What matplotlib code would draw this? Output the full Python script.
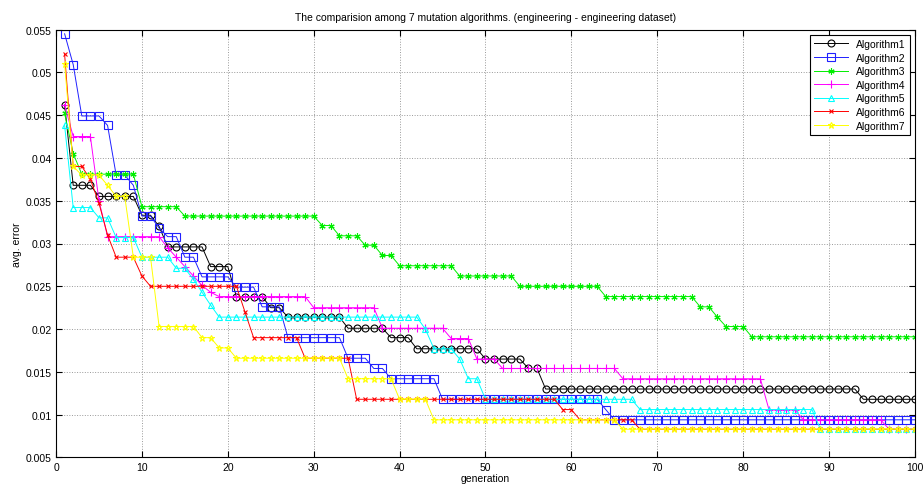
import numpy as np
import matplotlib
matplotlib.use("Agg")
import matplotlib.pyplot as plt

plt.rcParams['font.family'] = ['Liberation Sans', 'DejaVu Sans']

title = "The comparision among 7 mutation algorithms. (engineering - engineering dataset)"
names = ["Algorithm1", "Algorithm2", "Algorithm3", "Algorithm4", "Algorithm5", "Algorithm6", "Algorithm7"]

# run-length data (value, number of generations at that value), generations 1..100
alg1_vals = [0.0462, 0.0368, 0.0355, 0.0333, 0.0320, 0.0296, 0.0273, 0.0238, 0.0225, 0.0214, 0.0201, 0.0190, 0.0177, 0.0165, 0.0154, 0.0130, 0.0118]
alg1_runs = [1, 3, 5, 2, 1, 5, 3, 4, 2, 7, 5, 3, 8, 5, 2, 37, 7]

alg2_vals = [0.0545, 0.0509, 0.0449, 0.0438, 0.0380, 0.0368, 0.0332, 0.0318, 0.0308, 0.0284, 0.0261, 0.0249, 0.0226, 0.0190, 0.0166, 0.0154, 0.0142, 0.0118, 0.0106, 0.0094]
alg2_runs = [1, 1, 3, 1, 2, 1, 2, 1, 2, 2, 4, 3, 3, 7, 3, 2, 6, 19, 1, 36]

alg3_vals = [0.0452, 0.0405, 0.0381, 0.0343, 0.0332, 0.0321, 0.0309, 0.0298, 0.0286, 0.0274, 0.0262, 0.0250, 0.0238, 0.0226, 0.0214, 0.0203, 0.0191]
alg3_runs = [1, 1, 7, 5, 16, 2, 3, 2, 2, 7, 7, 10, 11, 2, 1, 3, 20]

alg4_vals = [0.0462, 0.0425, 0.0350, 0.0308, 0.0295, 0.0284, 0.0273, 0.0262, 0.0251, 0.0243, 0.0238, 0.0225, 0.0201, 0.0189, 0.0165, 0.0154, 0.0142, 0.0106, 0.0094, 0.0083]
alg4_runs = [1, 3, 1, 7, 1, 1, 1, 1, 1, 1, 11, 8, 8, 3, 3, 14, 17, 4, 10, 4]

alg5_vals = [0.0438, 0.0342, 0.0330, 0.0307, 0.0284, 0.0271, 0.0258, 0.0243, 0.0228, 0.0214, 0.0200, 0.0177, 0.0165, 0.0142, 0.0118, 0.0106, 0.0083]
alg5_runs = [1, 3, 2, 3, 4, 2, 1, 1, 1, 24, 1, 3, 1, 2, 18, 21, 12]

alg6_vals = [0.0521, 0.0390, 0.0375, 0.0347, 0.0310, 0.0284, 0.0262, 0.0250, 0.0220, 0.0190, 0.0166, 0.0118, 0.0106, 0.0094, 0.0083]
alg6_runs = [1, 2, 1, 1, 1, 3, 1, 11, 1, 6, 6, 24, 2, 7, 33]

alg7_vals = [0.0510, 0.0390, 0.0380, 0.0368, 0.0355, 0.0284, 0.0203, 0.0190, 0.0178, 0.0166, 0.0142, 0.0118, 0.0094, 0.0083]
alg7_runs = [1, 1, 3, 1, 2, 3, 5, 2, 2, 13, 6, 4, 22, 35]

x_ticks = [0, 10, 20, 30, 40, 50, 60, 70, 80, 90, 100]
y_ticks = [0.005, 0.01, 0.015, 0.02, 0.025, 0.03, 0.035, 0.04, 0.045, 0.05, 0.055]
y_tick_labels = ["0.005", "0.01", "0.015", "0.02", "0.025", "0.03", "0.035", "0.04", "0.045", "0.05", "0.055"]

series = [
    (alg1_vals, alg1_runs), (alg2_vals, alg2_runs), (alg3_vals, alg3_runs),
    (alg4_vals, alg4_runs), (alg5_vals, alg5_runs), (alg6_vals, alg6_runs),
    (alg7_vals, alg7_runs),
]
colors = ["#000000", "#2020ff", "#00ee00", "#ff00ff", "#00ffff", "#ff0000", "#ffff00"]
markers = ["o", "s", (6, 2, 0), "+", "^", "x", "*"]
msizes = [5, 5.5, 4.5, 5.5, 5, 3.5, 5]

fig = plt.figure(figsize=(9.23, 4.89), dpi=100)
ax = fig.add_axes([0.0607, 0.0624, 0.9306, 0.8752])

for (vals, runs), name, c, m, ms in zip(series, names, colors, markers, msizes):
    y = np.repeat(vals, runs)
    gens = np.arange(1, len(y) + 1)
    ax.plot(gens, y, color=c, marker=m, markersize=ms, markerfacecolor='none',
            markeredgecolor=c, markeredgewidth=0.8, linewidth=0.7, label=name)

ax.set_xlim(0, 100)
ax.set_ylim(0.005, 0.055)
ax.set_xticks(x_ticks)
ax.set_yticks(y_ticks)
ax.set_yticklabels(y_tick_labels)
ax.tick_params(direction='in', top=True, right=True, labelsize=7.5, length=4, width=0.8, pad=3)
ax.grid(True, linestyle=':', color='#999999', linewidth=0.7)
for s in ax.spines.values():
    s.set_linewidth(0.8)
ax.set_title(title, fontsize=7.5, pad=7)
ax.set_xlabel("generation", fontsize=7.5, labelpad=1)
ax.set_ylabel("avg. error", fontsize=7.5, labelpad=3)

leg = ax.legend(loc='upper right', fontsize=7.5, frameon=True, fancybox=False,
                edgecolor='black', framealpha=1, handlelength=3.2, borderpad=0.4,
                labelspacing=0.35, borderaxespad=0.5)
leg.get_frame().set_linewidth(0.8)

fig.savefig("out.png", dpi=100)
